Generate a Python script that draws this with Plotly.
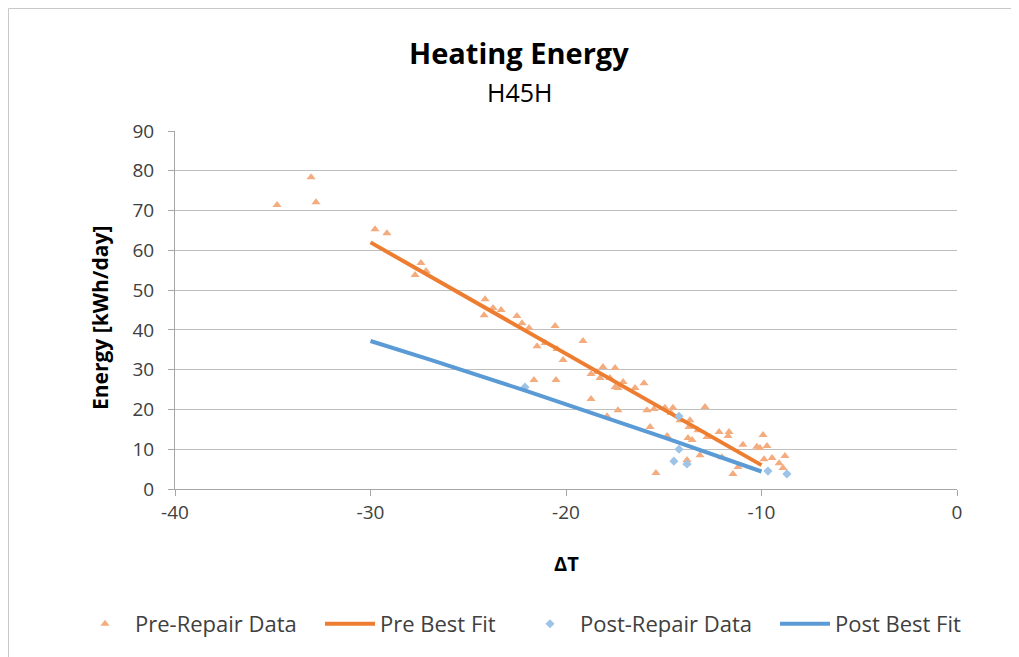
import plotly.graph_objects as go

# ---- data ----
pre_x = [-34.78, -33.04, -32.79, -29.77, -29.16, -27.42, -27.72, -27.16, -24.14, -24.19,
         -23.73, -23.32, -22.51, -22.25, -21.89, -20.56, -21.48, -21.07, -20.46, -20.15,
         -19.13, -21.64, -20.51, -18.72, -18.41, -18.11, -17.49, -18.26, -17.75, -17.08,
         -17.49, -17.34, -16.47, -16.01, -18.72, -17.90, -17.34, -15.86, -15.50, -14.94,
         -14.53, -14.63, -14.17, -13.66, -13.71, -13.25, -12.89, -15.70, -14.83, -12.79,
         -13.76, -12.17, -11.66, -11.71, -10.95, -10.08, -9.92, -9.72, -12.02, -13.15,
         -11.20, -11.46, -9.87, -9.46, -8.80, -9.10, -8.90, -15.40, -13.81, -13.81,
         -13.55, -10.24]
pre_y = [71.4, 78.4, 72.1, 65.3, 64.3, 56.8, 53.8, 54.8, 47.7, 43.7,
         45.5, 45.0, 43.5, 41.7, 40.5, 41.0, 35.9, 36.7, 35.2, 32.4,
         37.2, 27.4, 27.4, 28.9, 29.4, 30.7, 30.4, 27.9, 27.9, 26.9,
         25.6, 25.4, 25.4, 26.6, 22.6, 18.3, 19.8, 19.8, 20.1, 20.4,
         20.4, 19.1, 17.3, 17.3, 15.6, 14.8, 20.6, 15.6, 13.3, 13.1,
         12.8, 14.3, 14.3, 13.3, 11.1, 10.3, 13.6, 10.8, 8.0, 8.5,
         5.5, 3.8, 7.5, 7.8, 8.3, 6.5, 5.3, 4.0, 7.3, 6.5,
         12.3, 10.6]

post_x = [-22.10, -14.22, -14.22, -14.48, -13.81, -9.67, -8.70]
post_y = [25.6, 18.3, 10.0, 7.0, 6.3, 4.5, 3.8]

pre_fit_x = [-30, -10]
pre_fit_y = [62.0, 6.0]

post_fit_x = [-30, -27, -22, -15, -10]
post_fit_y = [37.2, 32.6, 24.6, 13.0, 4.4]

x_ticks = [-40, -30, -20, -10, 0]
x_tick_text = ["-40", "-30", "-20", "-10", "0"]
y_ticks = [0, 10, 20, 30, 40, 50, 60, 70, 80, 90]

title = "Heating Energy"
subtitle = "H45H"
x_title = "ΔT"
y_title = "Energy [kWh/day]"

ORANGE = "#ED7D31"
BLUE = "#5B9BD5"
FONT = "Open Sans"
TXT = "#404040"

fig = go.Figure()
fig.add_trace(go.Scatter(x=pre_x, y=pre_y, mode="markers", name="Pre-Repair Data",
                         legend="legend",
                         marker=dict(symbol="triangle-up", size=8, color="#F4AC7E")))
fig.add_trace(go.Scatter(x=pre_fit_x, y=pre_fit_y, mode="lines", name="Pre Best Fit",
                         legend="legend2",
                         line=dict(color=ORANGE, width=4)))
fig.add_trace(go.Scatter(x=post_x, y=post_y, mode="markers", name="Post-Repair Data",
                         legend="legend3",
                         marker=dict(symbol="diamond", size=7, color="#9DC3E6")))
fig.add_trace(go.Scatter(x=post_fit_x, y=post_fit_y, mode="lines", name="Post Best Fit",
                         legend="legend4",
                         line=dict(color=BLUE, width=4)))

OFF = 8  # page body margin
W, H = 1019, 657
L, T = 175 - OFF, 131 - OFF
pw, ph = 782, 358
R, B = W - L - pw, H - T - ph

def px(xs):
    return (xs - OFF - L) / pw

def py(ys):
    return (T + ph - (ys - OFF)) / ph

def leg(text_start):
    return dict(orientation="h", x=px(text_start - 60), y=py(624), xanchor="left",
                yanchor="middle", font=dict(family=FONT, size=22, color=TXT),
                itemwidth=50, bgcolor="rgba(0,0,0,0)")

fig.update_layout(
    width=W, height=H,
    margin=dict(l=L, r=R, t=T, b=B),
    plot_bgcolor="white", paper_bgcolor="white",
    font=dict(family=FONT, size=19, color=TXT),
    showlegend=True,
    legend=leg(135),
    legend2=leg(380),
    legend3=leg(580),
    legend4=leg(835),
    xaxis=dict(range=[-40, 0], tickvals=x_ticks, ticktext=x_tick_text, ticks="outside", ticklen=6,
               tickcolor="#a6a6a6", showgrid=False, zeroline=False,
               showline=True, linecolor="#a6a6a6", linewidth=1,
               tickfont=dict(family=FONT, size=19, color=TXT), fixedrange=True),
    yaxis=dict(range=[0, 90], tickvals=y_ticks, ticks="outside", ticklen=6,
               tickcolor="#a6a6a6", showgrid=True, gridcolor="#bfbfbf", gridwidth=1,
               zeroline=False, showline=True, linecolor="#a6a6a6", linewidth=1,
               ticklabelstandoff=10,
               tickfont=dict(family=FONT, size=19, color=TXT), fixedrange=True),
    annotations=[
        dict(text="<b>" + title + "</b>", x=px(519), y=py(52), xref="paper", yref="paper",
             showarrow=False, xanchor="center", yanchor="middle",
             font=dict(family=FONT, size=29, color="#000000")),
        dict(text=subtitle, x=px(519), y=py(92), xref="paper", yref="paper",
             showarrow=False, xanchor="center", yanchor="middle",
             font=dict(family=FONT, size=25, color="#000000")),
        dict(text="<b>" + x_title + "</b>", x=px(566), y=py(563), xref="paper", yref="paper",
             showarrow=False, xanchor="center", yanchor="middle",
             font=dict(family=FONT, size=20, color="#000000")),
        dict(text="<b>" + y_title + "</b>", x=px(100), y=py(318), xref="paper", yref="paper",
             showarrow=False, xanchor="center", yanchor="middle", textangle=-90,
             font=dict(family=FONT, size=21, color="#000000")),
    ],
    shapes=[
        dict(type="line", xref="paper", yref="paper", x0=px(8.5), x1=px(1030), y0=py(8.5), y1=py(8.5),
             line=dict(color="#c8c8c8", width=1)),
        dict(type="line", xref="paper", yref="paper", x0=px(8.5), x1=px(8.5), y0=py(8.5), y1=py(670),
             line=dict(color="#c8c8c8", width=1)),
    ],
)

fig.write_html("out.html")
